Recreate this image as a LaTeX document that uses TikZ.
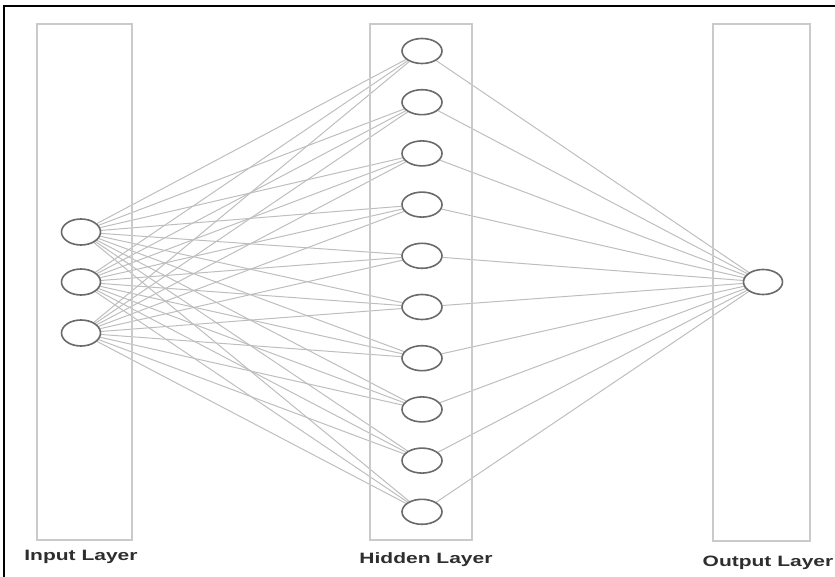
\documentclass[tikz,border=0pt]{standalone}
\usepackage{fontspec}
\setmainfont{Liberation Sans}
\usetikzlibrary{shapes.geometric}
\pgfdeclarelayer{background}
\pgfsetlayers{background,main}
\definecolor{edgegray}{HTML}{BEBEBE}
\definecolor{boxgray}{HTML}{CACACA}
\definecolor{nodegray}{HTML}{6A6A6A}
\definecolor{labelgray}{HTML}{2E2E2E}
\begin{document}
\begin{tikzpicture}[x=1pt,y=-1pt,
  neuron/.style={ellipse,draw=nodegray,line width=1.6pt,fill=white,
    minimum width=39pt,minimum height=26pt,inner sep=0pt},
  hneuron/.style={neuron,minimum width=40pt,minimum height=25pt},
  layerbox/.style={draw=boxgray,line width=1.2pt},
  link/.style={draw=edgegray,line width=1pt},
  layerlabel/.style={text=labelgray,font=\fontsize{15}{15}\selectfont\bfseries,inner sep=0pt}]
\useasboundingbox (0,0) rectangle (835,577);
% frame along the top and left edges
\draw[line width=2pt] (4,577) -- (4,6) -- (835,6);
% layer boxes
\draw[layerbox] (37,24) rectangle (132,540);
\draw[layerbox] (370,24) rectangle (472,540);
\draw[layerbox] (713,24) rectangle (810,541);
% neurons
\foreach \k/\y in {1/232,2/282,3/333}
  \node[neuron] (i\k) at (81,\y) {};
\foreach \k in {1,...,10}
  \node[hneuron] (h\k) at (422,{51+51.2*(\k-1)}) {};
\node[neuron,minimum height=25pt] (o) at (763,282) {};
% connections, kept behind the neurons
\begin{pgfonlayer}{background}
\foreach \a in {1,2,3}
  \foreach \b in {1,...,10}
    \draw[link] (i\a) -- (h\b);
\foreach \b in {1,...,10}
  \draw[link] (h\b) -- (o);
\end{pgfonlayer}
% labels
\node[layerlabel] (li) at (81,557) {\scalebox{1.4}[1]{Input Layer}};
\node[layerlabel] (lh) at (426,560) {\scalebox{1.4}[1]{Hidden Layer}};
\node[layerlabel] (lo) at (768,563) {\scalebox{1.4}[1]{Output Layer}};
\end{tikzpicture}
\end{document}
